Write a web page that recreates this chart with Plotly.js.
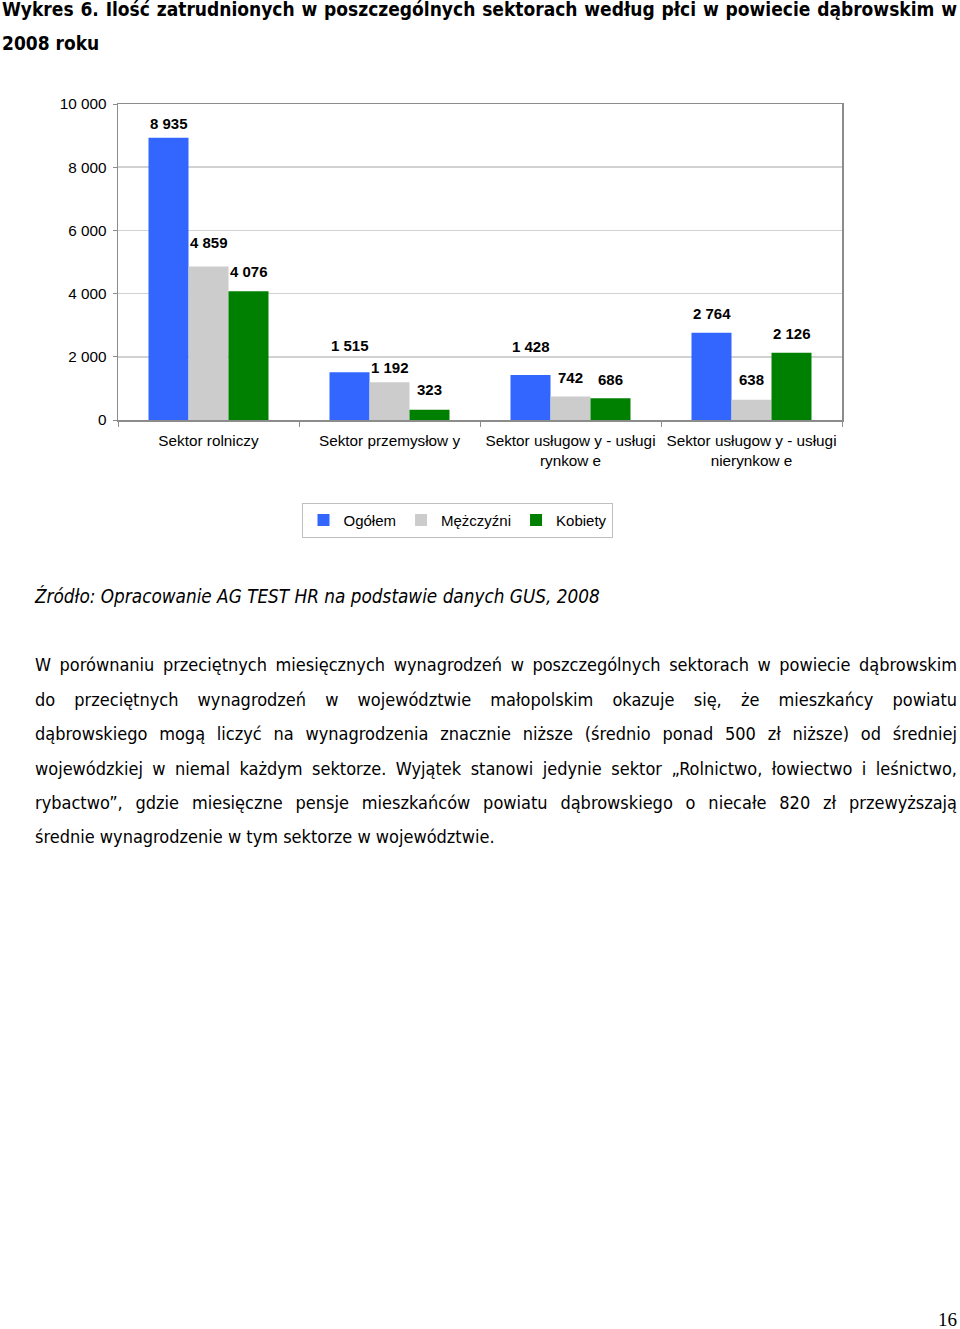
<!DOCTYPE html>
<html>
<head>
<meta charset="utf-8">
<script src="https://cdn.plot.ly/plotly-3.0.1.min.js"></script>
<style>
  html, body { margin:0; padding:0; background:#fff; }
  body { width:960px; height:1329px; position:relative; overflow:hidden; }
  .cond { font-family:"DejaVu Sans Condensed","DejaVu Sans",sans-serif; font-stretch:condensed; color:#000; }
  .line { position:absolute; white-space:nowrap; text-align:justify; text-align-last:justify; }
  .title { font-weight:bold; font-size:19px; }
  .para { font-size:18px; left:35px; width:922px; }
  #chart { position:absolute; left:0; top:60px; width:960px; height:490px; }
</style>
</head>
<body>
<div class="cond line title" style="left:2px; width:955px; top:-2px;">Wykres 6. Ilość zatrudnionych w poszczególnych sektorach według płci w powiecie dąbrowskim w</div>
<div class="cond line title" style="left:2px; top:32px; text-align-last:left;">2008 roku</div>

<div id="chart"></div>

<div class="cond line" style="left:35px; top:586px; font-size:18.8px; font-style:italic;">Źródło: Opracowanie AG TEST HR na podstawie danych GUS, 2008</div>

<div class="cond line para" style="top:654px;">W porównaniu przeciętnych miesięcznych wynagrodzeń w poszczególnych sektorach w powiecie dąbrowskim</div>
<div class="cond line para" style="top:689px;">do przeciętnych wynagrodzeń w województwie małopolskim okazuje się, że mieszkańcy powiatu</div>
<div class="cond line para" style="top:723px;">dąbrowskiego mogą liczyć na wynagrodzenia znacznie niższe (średnio ponad 500 zł niższe) od średniej</div>
<div class="cond line para" style="top:758px;">wojewódzkiej w niemal każdym sektorze. Wyjątek stanowi jedynie sektor „Rolnictwo, łowiectwo i leśnictwo,</div>
<div class="cond line para" style="top:792px;">rybactwo”, gdzie miesięczne pensje mieszkańców powiatu dąbrowskiego o niecałe 820 zł przewyższają</div>
<div class="cond line para" style="top:826px; text-align-last:left;">średnie wynagrodzenie w tym sektorze w województwie.</div>

<div class="line" style="left:938px; top:1309px; font-family:'Liberation Serif','Times New Roman',serif; font-size:19px;">16</div>

<script>
// ---- data ----
const categories = [
  "Sektor rolniczy",
  "Sektor przemysłow y",
  "Sektor usługow y - usługi<br>rynkow e",
  "Sektor usługow y - usługi<br>nierynkow e"
];
const seriesNames = ["Ogółem", "Mężczyźni", "Kobiety"];
const ogolem    = [8935, 1515, 1428, 2764];
const mezczyzni = [4859, 1192, 742, 638];
const kobiety   = [4076, 323, 686, 2126];
const yTicks = [0, 2000, 4000, 6000, 8000, 10000];

// ---- style ----
const colors = ["#3366FF", "#CCCCCC", "#008000"];
// vertical lift (px) of each value label above its bar, per series / category
const labelLift = [
  [14, 27, 28, 19],
  [24, 15, 19, 20],
  [20, 20, 19, 19]
];
const bargap = 0.337;

const seriesValues = [ogolem, mezczyzni, kobiety];
const fmt = v => String(v).replace(/\B(?=(\d{3})+(?!\d))/g, " ");

const traces = seriesValues.map((vals, k) => ({
  type: "bar",
  name: seriesNames[k],
  x: categories,
  y: vals,
  marker: { color: colors[k], line: { width: 0 } },
  hoverinfo: "skip"
}));

const barW = (1 - bargap) / 3;
const annotations = [];
seriesValues.forEach((vals, k) => {
  vals.forEach((v, i) => {
    annotations.push({
      x: i + (k - 1) * barW, y: v, xref: "x", yref: "y",
      text: fmt(v), showarrow: false,
      yanchor: "middle", xanchor: "center",
      yshift: labelLift[k][i],
      font: { family: "Liberation Sans, Arial, sans-serif", size: 15, color: "#000", weight: "bold" }
    });
  });
});

const layout = {
  width: 960, height: 490,
  margin: { l: 117.5, r: 118, t: 44, b: 130 },
  paper_bgcolor: "#fff", plot_bgcolor: "#fff",
  font: { family: "Liberation Sans, Arial, sans-serif", size: 15, color: "#000" },
  separators: ", ",
  barmode: "group", bargap: bargap, bargroupgap: 0,
  showlegend: true,
  legend: {
    orientation: "h", x: 0.4696, xanchor: "center", y: -0.262, yanchor: "top",
    bordercolor: "#bfbfbf", borderwidth: 1, bgcolor: "#fff",
    font: { size: 15, color: "#000" }, itemwidth: 30, traceorder: "normal"
  },
  xaxis: {
    type: "category", tickson: "boundaries", ticks: "outside", ticklen: 5,
    tickcolor: "#8c8c8c", showline: true, linecolor: "#8c8c8c", linewidth: 1.5,
    mirror: true, showgrid: false, tickfont: { size: 15.3 }, tickangle: 0,
    ticklabelstandoff: 6, fixedrange: true
  },
  yaxis: {
    range: [0, 10000], tickvals: yTicks, tickformat: ",d",
    ticks: "outside", ticklen: 4, tickcolor: "#8c8c8c",
    showline: true, linecolor: "#8c8c8c", linewidth: 1.5, mirror: true,
    showgrid: true, gridcolor: "#d2d2d2", gridwidth: 1.5,
    zeroline: false, tickfont: { size: 15.3 }, ticklabelstandoff: 3, fixedrange: true
  },
  annotations: annotations
};

Plotly.newPlot("chart", traces, layout, { staticPlot: true, displayModeBar: false });
</script>
</body>
</html>
